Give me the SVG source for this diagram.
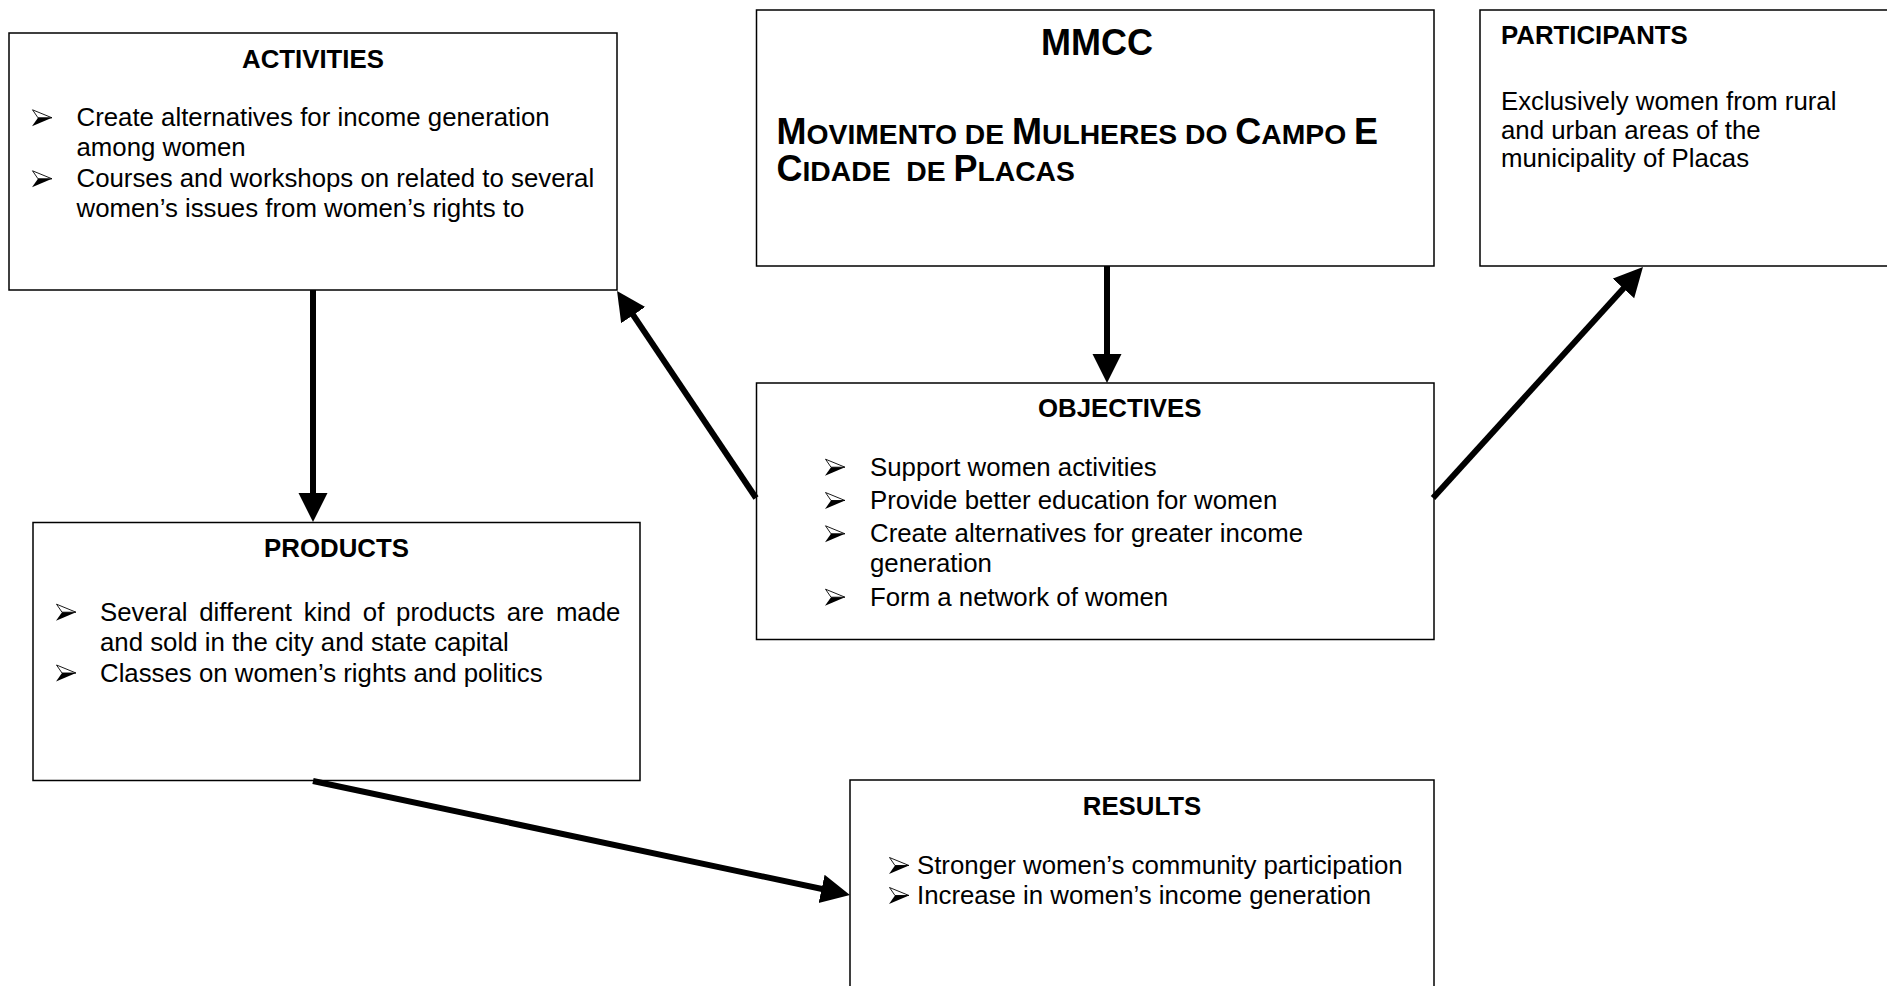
<svg xmlns="http://www.w3.org/2000/svg" width="1887" height="986" viewBox="0 0 1887 986">
<defs>
<style>
.box{fill:#fff;stroke:#000;stroke-width:1.5}
.t{font-family:"Liberation Sans",Arial,sans-serif;font-size:25.8px;fill:#000}
.h{font-family:"Liberation Sans",Arial,sans-serif;font-size:25.8px;font-weight:bold;fill:#000}
.c{text-anchor:middle}
.big{font-family:"Liberation Sans",Arial,sans-serif;font-weight:bold;font-size:36px;fill:#000}
.sm{font-size:28.3px}
.conn{stroke:#000;stroke-width:6;fill:none;marker-end:url(#ah)}
</style>
<marker id="ah" markerUnits="userSpaceOnUse" markerWidth="30" markerHeight="30" refX="9" refY="14.5" orient="auto" viewBox="0 0 30 30">
<path d="M0,0 L29,14.5 L0,29 Z" fill="#000"/>
</marker>
<g id="bul">
<path d="M0.5,0.5 L20,8.5 L6,8.5 Z" fill="#fff" stroke="#000" stroke-width="0.9" stroke-linejoin="miter"/>
<path d="M6,8.5 L20,8.5 L0,17 Z" fill="#000"/>
</g>
</defs>
<rect width="1887" height="986" fill="#fff"/>

<g id="activities">
<rect class="box" x="9" y="33" width="608" height="257"/>
<text class="h c" x="313" y="67.5">ACTIVITIES</text>
<use href="#bul" x="32" y="109.3"/>
<text class="t" x="76.5" y="126.3">Create alternatives for income generation</text>
<text class="t" x="76.5" y="155.7">among women</text>
<use href="#bul" x="32" y="170.3"/>
<text class="t" x="76.5" y="187.3">Courses and workshops on related to several</text>
<text class="t" x="76.5" y="216.7">women’s issues from women’s rights to</text>
</g>

<g id="mmcc">
<rect class="box" x="756.5" y="10" width="677.5" height="256"/>
<text class="big c" x="1097" y="55">MMCC</text>
<text class="big" x="776.5" y="144">M<tspan class="sm">OVIMENTO DE </tspan>M<tspan class="sm">ULHERES DO </tspan>C<tspan class="sm">AMPO </tspan>E</text>
<text class="big" x="776.5" y="181" xml:space="preserve">C<tspan class="sm">IDADE  DE </tspan>P<tspan class="sm">LACAS</tspan></text>
</g>

<g id="participants">
<rect class="box" x="1480" y="10" width="450" height="256"/>
<text class="h" x="1501" y="44">PARTICIPANTS</text>
<text class="t" x="1501" y="110">Exclusively women from rural</text>
<text class="t" x="1501" y="138.5">and urban areas of the</text>
<text class="t" x="1501" y="167">municipality of Placas</text>
</g>

<g id="objectives">
<rect class="box" x="756.5" y="383" width="677.5" height="256.5"/>
<text class="h" x="1038" y="417.3">OBJECTIVES</text>
<use href="#bul" x="825" y="458.7"/>
<text class="t" x="870" y="475.7">Support women activities</text>
<use href="#bul" x="825" y="492"/>
<text class="t" x="870" y="509">Provide better education for women</text>
<use href="#bul" x="825" y="525.3"/>
<text class="t" x="870" y="542.3">Create alternatives for greater income</text>
<text class="t" x="870" y="572.3">generation</text>
<use href="#bul" x="825" y="588.7"/>
<text class="t" x="870" y="605.7">Form a network of women</text>
</g>

<g id="products">
<rect class="box" x="33" y="522.5" width="607" height="258"/>
<text class="h c" x="336.5" y="557.3">PRODUCTS</text>
<use href="#bul" x="56" y="603.7"/>
<text class="t" x="100" y="620.7" word-spacing="4.6">Several different kind of products are made</text>
<text class="t" x="100" y="650.7">and sold in the city and state capital</text>
<use href="#bul" x="56" y="664.5"/>
<text class="t" x="100" y="681.5">Classes on women’s rights and politics</text>
</g>

<g id="results">
<rect class="box" x="850" y="780" width="584" height="250"/>
<text class="h c" x="1142" y="815">RESULTS</text>
<use href="#bul" x="889" y="857"/>
<text class="t" x="917" y="874">Stronger women’s community participation</text>
<use href="#bul" x="889" y="887"/>
<text class="t" x="917" y="904">Increase in women’s income generation</text>
</g>

<g id="connectors">
<line class="conn" x1="313" y1="290" x2="313" y2="502"/>
<line class="conn" x1="1107" y1="266" x2="1107" y2="363"/>
<line class="conn" x1="756" y1="498" x2="628.2" y2="307.6"/>
<line class="conn" x1="1433" y1="498" x2="1629.5" y2="281.8"/>
<line class="conn" x1="313" y1="781" x2="830.4" y2="890.8"/>
</g>
</svg>
